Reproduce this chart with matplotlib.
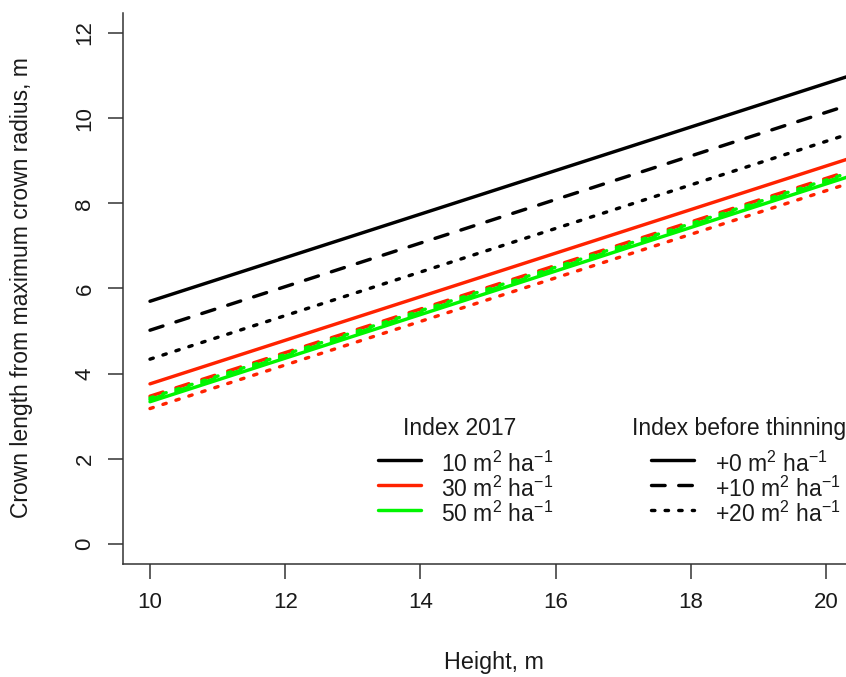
import matplotlib
matplotlib.use("Agg")
import matplotlib.pyplot as plt

plt.rcParams['font.family'] = ['Liberation Sans', 'DejaVu Sans']
plt.rcParams['mathtext.fontset'] = 'custom'
plt.rcParams['mathtext.rm'] = 'Liberation Sans'
plt.rcParams['mathtext.it'] = 'Liberation Sans:italic'
plt.rcParams['mathtext.bf'] = 'Liberation Sans:bold'

# ---------------- data ----------------
height = [10, 20.4]  # x (m)

# crown length (m) at the two heights, per Index 2017 level and thinning increment
crown_10_p0 = [5.70, 11.02]
crown_30_p0 = [3.76, 9.08]
crown_50_p0 = [3.34, 8.66]
crown_10_p10 = [5.02, 10.34]
crown_30_p10 = [3.47, 8.79]
crown_50_p10 = [3.39, 8.71]
crown_10_p20 = [4.34, 9.66]
crown_30_p20 = [3.18, 8.50]
crown_50_p20 = [3.43, 8.75]

index2017_labels = ['10 m$^2$ ha$^{-1}$', '30 m$^2$ ha$^{-1}$', '50 m$^2$ ha$^{-1}$']
thinning_labels = ['+0 m$^2$ ha$^{-1}$', '+10 m$^2$ ha$^{-1}$', '+20 m$^2$ ha$^{-1}$']
x_ticks = [10, 12, 14, 16, 18, 20]
y_ticks = [0, 2, 4, 6, 8, 10, 12]

colors = ['#000000', '#ff2200', '#00f500']
styles = [None, (0, (4, 4)), (0, (1, 3))]

# ---------------- figure ----------------
W, H = 846, 677
fig = plt.figure(figsize=(W / 100, H / 100), dpi=100)

def fx(px):
    return px / W

def fy(py):
    return 1 - py / H

ax_l, ax_r, ax_b, ax_t = 122.96, 853.04, 564.4, 12.56
ax = fig.add_axes([fx(ax_l), fy(ax_b), fx(ax_r) - fx(ax_l), fy(ax_t) - fy(ax_b)])
ax.set_xlim(9.6, 20.4)
ax.set_ylim(-0.48, 12.48)

LW = 2.45
groups = [
    [crown_10_p0, crown_30_p0, crown_50_p0],
    [crown_10_p10, crown_30_p10, crown_50_p10],
    [crown_10_p20, crown_30_p20, crown_50_p20],
]
for gi, grp in enumerate(groups):
    for ci, vals in enumerate(grp):
        ln, = ax.plot(height, vals, color=colors[ci], lw=LW,
                      solid_capstyle='round', dash_capstyle='round')
        if styles[gi] is not None:
            ln.set_linestyle(styles[gi])

for s in ['top', 'right']:
    ax.spines[s].set_visible(False)
for s in ['left', 'bottom']:
    ax.spines[s].set_color('#333333')
    ax.spines[s].set_linewidth(1.1)

ax.set_xticks(x_ticks)
ax.set_yticks(y_ticks)
ax.tick_params(axis='both', length=10.8, width=1.1, color='#333333',
               labelsize=16, labelcolor='#1a1a1a')
ax.tick_params(axis='x', pad=9)
ax.tick_params(axis='y', pad=9, labelrotation=90)
for lab in ax.get_yticklabels():
    lab.set_va('center')

fig.text(fx(494), fy(663), 'Height, m', ha='center', va='center',
         fontsize=16.8, color='#1a1a1a')
fig.text(fx(22), fy(288), 'Crown length from maximum crown radius, m',
         ha='center', va='center', rotation=90, fontsize=16.5, color='#1a1a1a')

# ---------------- legends (manual, figure pixel layout) ----------------
FS = 16.5
fig.text(fx(403), fy(435), 'Index 2017', ha='left', va='baseline',
         fontsize=FS, color='#1a1a1a')
fig.text(fx(632), fy(435), 'Index before thinning', ha='left', va='baseline',
         fontsize=FS, color='#1a1a1a')
rows = [460, 485, 510]
for i, lab in enumerate(index2017_labels):
    fig.add_artist(plt.Line2D([fx(378), fx(421)], [fy(rows[i]), fy(rows[i])],
                              color=colors[i], lw=LW, solid_capstyle='round'))
    fig.text(fx(441), fy(rows[i] + 12), lab, ha='left', va='baseline',
             fontsize=FS, color='#1a1a1a')
for i, lab in enumerate(thinning_labels):
    ln = plt.Line2D([fx(651), fx(694)], [fy(rows[i]), fy(rows[i])],
                    color='#000000', lw=LW, solid_capstyle='round',
                    dash_capstyle='round')
    if styles[i] is not None:
        ln.set_linestyle(styles[i])
    fig.add_artist(ln)
    fig.text(fx(715), fy(rows[i] + 12), lab, ha='left', va='baseline',
             fontsize=FS, color='#1a1a1a')

fig.savefig('out.png', dpi=100)
